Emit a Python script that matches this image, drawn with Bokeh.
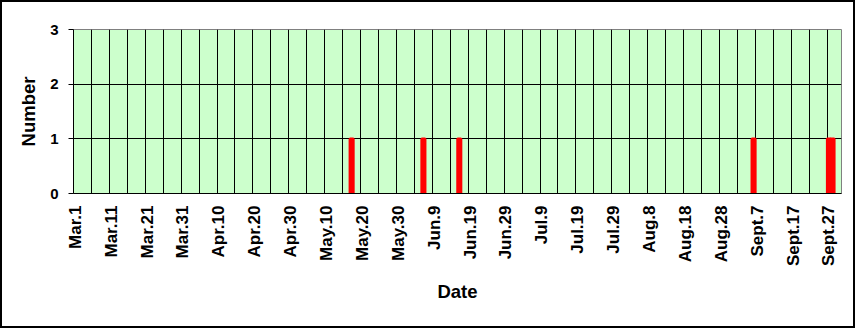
import math
from datetime import date
from bokeh.plotting import figure
from bokeh.models import Range1d, FixedTicker, ColumnDataSource
from bokeh.embed import file_html
from bokeh.resources import INLINE

# ---- data ----
season_start = (3, 1)      # Mar.1
season_end = (9, 30)       # Sept.30
tick_labels = ["Mar.1", "Mar.11", "Mar.21", "Mar.31", "Apr.10", "Apr.20", "Apr.30",
               "May.10", "May.20", "May.30", "Jun.9", "Jun.19", "Jun.29", "Jul.9",
               "Jul.19", "Jul.29", "Aug.8", "Aug.18", "Aug.28", "Sept.7", "Sept.17", "Sept.27"]
event_months = [5, 6, 6, 9, 9, 9]
event_days = [17, 6, 16, 6, 27, 28]
event_counts = [1, 1, 1, 1, 1, 1]

# ---- derived ----
yr = 2001
d0 = date(yr, *season_start)
n_days = (date(yr, *season_end) - d0).days + 1
xs = [(date(yr, m, d) - d0).days for m, d in zip(event_months, event_days)]
src = ColumnDataSource(dict(x=xs, top=event_counts))

FONT = "Liberation Sans"

p = figure(width=855, height=328, output_backend="svg", toolbar_location=None,
           x_range=Range1d(-0.5, n_days - 0.5), y_range=Range1d(0, 3),
           min_border_left=71, min_border_right=16, min_border_top=27, min_border_bottom=137,
           styles={"border": "2px solid black"})

p.background_fill_color = "#CCFFCC"
p.border_fill_color = "white"
p.outline_line_color = "#808080"
p.outline_line_width = 1

p.vbar(x="x", top="top", width=1, bottom=0, source=src,
       fill_color="#FF0000", line_color="#FF0000", line_width=2.5)

# grids
p.xgrid.ticker = FixedTicker(ticks=[k - 0.5 for k in range(5, n_days, 5)])
p.xgrid.grid_line_color = "black"
p.xgrid.grid_line_width = 1
p.ygrid.ticker = FixedTicker(ticks=[1, 2])
p.ygrid.grid_line_color = "black"
p.ygrid.grid_line_width = 1

# x axis
xa = p.xaxis[0]
tick_pos = list(range(0, n_days, 10))
xa.ticker = FixedTicker(ticks=tick_pos)
xa.major_label_overrides = {t: lab for t, lab in zip(tick_pos, tick_labels)}
xa.major_label_orientation = math.pi / 2
xa.major_tick_out = 0
xa.major_tick_in = 0
xa.minor_tick_out = 0
xa.minor_tick_in = 0
xa.axis_line_color = "black"
xa.major_label_standoff = 12
xa.major_label_text_font = FONT
xa.major_label_text_font_style = "bold"
xa.major_label_text_font_size = "17px"
xa.major_label_text_color = "black"
xa.axis_label = "Date"
xa.axis_label_text_font = FONT
xa.axis_label_text_font_style = "bold"
xa.axis_label_text_font_size = "18.5px"
xa.axis_label_text_color = "black"
xa.axis_label_standoff = 12

# y axis
ya = p.yaxis[0]
ya.ticker = FixedTicker(ticks=[0, 1, 2, 3])
ya.major_tick_out = 5
ya.major_tick_in = 0
ya.minor_tick_out = 0
ya.minor_tick_in = 0
ya.axis_line_color = "black"
ya.major_tick_line_color = "black"
ya.major_label_standoff = 10
ya.major_label_text_font = FONT
ya.major_label_text_font_style = "bold"
ya.major_label_text_font_size = "15px"
ya.major_label_text_color = "black"
ya.axis_label = "Number"
ya.axis_label_text_font = FONT
ya.axis_label_text_font_style = "bold"
ya.axis_label_text_font_size = "18.5px"
ya.axis_label_text_color = "black"
ya.axis_label_standoff = 8

open("out.html", "w").write(file_html(p, INLINE))
